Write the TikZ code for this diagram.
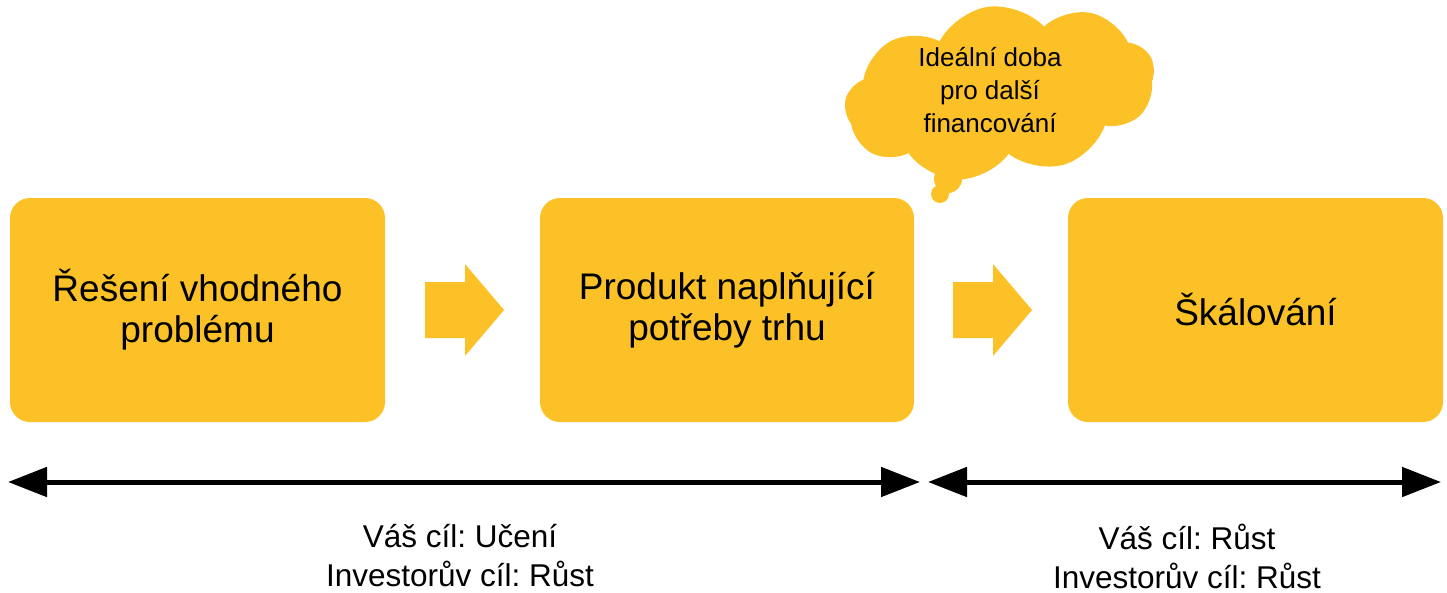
\documentclass[tikz,border=0pt]{standalone}
\usepackage{fontspec}
\setmainfont{Liberation Sans}
\frenchspacing
\usetikzlibrary{shapes.symbols,arrows.meta}
\definecolor{stageyellow}{RGB}{251,193,38}
\tikzset{
  stagebox/.style={fill=stageyellow, rounded corners=20pt, minimum width=375pt,
    minimum height=224pt, inner sep=0pt, align=center,
    font=\fontsize{37}{41}\selectfont},
  flowarrow/.style={fill=stageyellow},
  spanline/.style={line width=5pt, {Triangle[length=39pt,width=29pt]}-{Triangle[length=39pt,width=29pt]}},
  goaltext/.style={align=center, font=\fontsize{31.5}{39}\selectfont, inner sep=0pt},
  cloudtext/.style={align=center, font=\fontsize{26}{33}\selectfont, inner sep=0pt}
}
\begin{document}
\begin{tikzpicture}[x=1pt,y=-1pt]
  \useasboundingbox (0,0) rectangle (1447,592);

  % stages
  \node[stagebox] (s1) at (197.5,310) {Řešení vhodného\\problému};
  \node[stagebox, minimum width=374pt] (s2) at (727,310) {Produkt naplňující\\potřeby trhu};
  \node[stagebox] (s3) at (1255.5,310) {Škálování};

  % block arrows between stages
  \fill[flowarrow] (425,282) -- (465,282) -- (465,264) -- (504,310) -- (465,356)
    -- (465,338) -- (425,338) -- cycle;
  \fill[flowarrow] (953,282) -- (993,282) -- (993,264) -- (1032,310) -- (993,356)
    -- (993,338) -- (953,338) -- cycle;

  % thought cloud
  \node[cloud, cloud puffs=9, cloud puff arc=110, cloud ignores aspect,
    fill=stageyellow, minimum width=312pt, minimum height=172pt, inner sep=0pt,
    rotate=8] (cl) at (1000,92) {};
  \fill[stageyellow] (948,179) circle (14pt);
  \fill[stageyellow] (940,194) circle (9pt);
  \node[cloudtext] (ct) at (990,90) {Ideální doba\\pro další\\financování};

  % phase spans
  \coordinate (a1) at (8,482);
  \coordinate (b1) at (920,482);
  \coordinate (a2) at (928,482);
  \coordinate (b2) at (1441,482);
  \draw[spanline] (a1) -- (b1);
  \draw[spanline] (a2) -- (b2);

  % goals
  \node[goaltext] (g1) at (460,556) {Váš cíl: Učení\\Investorův cíl: Růst};
  \node[goaltext] (g2) at (1187,556) {Váš cíl: Růst\\Investorův cíl: Růst};
\end{tikzpicture}
\end{document}
